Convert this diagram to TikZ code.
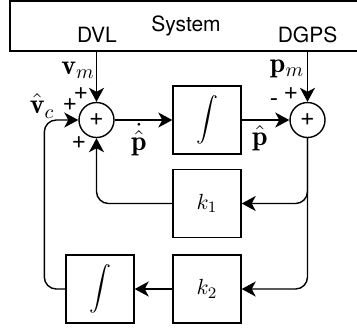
\documentclass[tikz,border=0pt]{standalone}
\usepackage{amsmath}
\usepackage{fontspec}
\usepackage{tikz}
\usetikzlibrary{arrows.meta, calc}
\newfontfamily\helv{TeX Gyre Heros}
\tikzset{
  block/.style={rectangle, draw, minimum size=34pt, inner sep=0pt, line width=0.7pt},
  sumnode/.style={circle, draw, minimum size=17.5pt, inner sep=0pt, line width=0.7pt,
    font=\helv\fontsize{12.5}{14}\selectfont},
  arrow/.style={-{Stealth[length=7pt, width=7.5pt, inset=2pt]}, line width=0.7pt},
  sign/.style={font=\helv\fontsize{12.5}{14}\selectfont, inner sep=0pt},
  sensor/.style={font=\helv\fontsize{10.5}{12}\selectfont},
  signal/.style={font=\fontsize{14}{16}\selectfont, inner sep=0pt}
}

\begin{document}
\begin{tikzpicture}[x=0.5pt, y=-0.5pt, every node/.style={font=\fontsize{11}{13}\selectfont}]
  \useasboundingbox (0,0) rectangle (357,329);
  \clip (0,0) rectangle (357,329);

  % System block with its two sensors
  \node[rectangle, draw, line width=0.7pt, minimum width=176pt, minimum height=25pt, sensor] (sys) at (186,26) {System};
  \node[sensor] (dvl) at (97,35) {DVL};
  \node[sensor] (dgps) at (307.5,35) {DGPS};

  % Summing junctions
  \node[sumnode] (sum1) at (96.5,120) {+};
  \node[sumnode] (sum2) at (307.5,120) {+};

  % Integrators and gains
  \node[block] (int1) at (207,120) {$\displaystyle\int$};
  \node[block] (k1) at (207,203.5) {$k_1$};
  \node[block] (k2) at (207,289) {$k_2$};
  \node[block] (int2) at (100,289) {$\displaystyle\int$};

  % Measurements
  \draw[arrow] (sys.south -| sum1) -- (sum1.north);
  \draw[arrow] (sys.south -| sum2) -- (sum2.north);

  % Forward path
  \draw[arrow] (sum1.east) -- (int1.west);
  \draw[arrow] (int1.east) -- (sum2.west);

  % Feedback through k1 and k2
  \draw[arrow, rounded corners=6pt] (sum2.south) |- (k1.east);
  \draw[arrow, rounded corners=6pt] (sum2.south) |- (k2.east);
  \draw[arrow, rounded corners=6pt] (k1.west) -| (sum1.south);
  \draw[arrow] (k2.west) -- (int2.east);
  \draw[arrow, rounded corners=6pt] (int2.west) -- ++(-21,0) |- (sum1.west);

  % Signals
  \node[signal] (vm) at (78,70) {$\mathbf{v}_m$};
  \node[signal] (vc) at (42,106) {$\hat{\mathbf{v}}_c$};
  \node[signal] (pdot) at (139,140) {$\dot{\hat{\mathbf{p}}}$};
  \node[signal] (pm) at (287,69) {$\mathbf{p}_m$};
  \node[signal] (phat) at (260,138) {$\hat{\mathbf{p}}$};

  % Signs at the junctions
  \node[sign] (s1) at (81,94) {+};
  \node[sign] (s2) at (70,105) {+};
  \node[sign] (s3) at (79,143) {+};
  \node[sign] (s4) at (291,94) {+};
  \node[sign] (s5) at (274,103) {-};
\end{tikzpicture}
\end{document}
